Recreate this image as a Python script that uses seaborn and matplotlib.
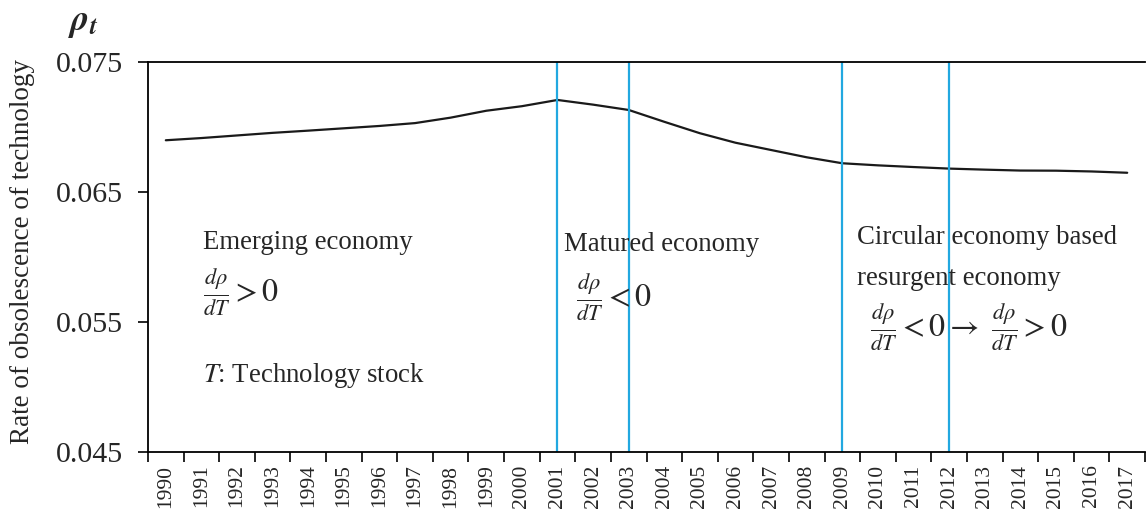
import matplotlib
matplotlib.use("Agg")
import matplotlib.pyplot as plt
import seaborn as sns
import pandas as pd
import numpy as np
from matplotlib.ticker import FixedLocator

years = [str(y) for y in range(1990, 2018)]
rho = [0.06898, 0.06915, 0.06935, 0.06955, 0.06972, 0.06990, 0.07008, 0.07030,
       0.07072, 0.07125, 0.07160, 0.07208, 0.07172, 0.07131, 0.07040, 0.06952,
       0.06879, 0.06823, 0.06767, 0.06721, 0.06705, 0.06692, 0.06680, 0.06672,
       0.06665, 0.06664, 0.06658, 0.06648]
phase_years = ["2001", "2003", "2009", "2012"]
ytick_vals = [0.045, 0.055, 0.065, 0.075]

sns.set_theme(style="ticks")
plt.rcParams["font.family"] = ["Liberation Serif", "DejaVu Serif"]
plt.rcParams["mathtext.fontset"] = "stix"

df = pd.DataFrame({"year": years, "rho": rho})

fig = plt.figure(figsize=(11.47, 5.31), dpi=100)
ax = fig.add_axes([148/1147, 1-452/531, 997/1147, 390/531])

sns.lineplot(data=df, x="year", y="rho", ax=ax, color="#1a1a1a", linewidth=1.6)

for py in phase_years:
    ax.axvline(years.index(py), color="#22A8E0", linewidth=1.6)

ax.set_xlim(-0.5, len(years) - 0.5)
ax.set_ylim(0.045, 0.075)
ax.set_yticks(ytick_vals)
ax.set_yticklabels([f"{v:.3f}" for v in ytick_vals], fontsize=21.5)
ax.set_xticks(range(len(years)))
ax.set_xticklabels(years, rotation=90, fontsize=15.5)
ax.tick_params(axis="x", which="major", length=0, pad=9)
ax.xaxis.set_minor_locator(FixedLocator(np.arange(-0.5, len(years), 1.0)))
ax.tick_params(axis="x", which="minor", length=7, width=1.2, color="black", direction="out")
ax.tick_params(axis="y", which="major", length=7, width=1.2, color="black", direction="out", pad=11)
ax.set_xlabel("")
ax.set_ylabel("Rate of obsolescence of technology", fontsize=19.5)
ax.yaxis.set_label_coords(-0.113, 0.515)

for s in ["left", "bottom", "top"]:
    ax.spines[s].set_color("black")
    ax.spines[s].set_linewidth(1.3)
ax.spines["right"].set_visible(False)

fs = 19.3
ffs = 23
ax.text(0.0552, 0.536, "Emerging economy", transform=ax.transAxes, fontsize=fs, va="center")
ax.text(0.0552, 0.41, r"$\frac{d\rho}{dT} > 0$", transform=ax.transAxes, fontsize=ffs, va="center")
ax.text(0.0552, 0.197, r"$T$: Technology stock", transform=ax.transAxes, fontsize=fs, va="center")
ax.text(0.417, 0.531, "Matured economy", transform=ax.transAxes, fontsize=fs, va="center")
ax.text(0.429, 0.397, r"$\frac{d\rho}{dT} < 0$", transform=ax.transAxes, fontsize=ffs, va="center")
ax.text(0.711, 0.549, "Circular economy based", transform=ax.transAxes, fontsize=fs, va="center")
ax.text(0.711, 0.446, "resurgent economy", transform=ax.transAxes, fontsize=fs, va="center")
ax.text(0.724, 0.32, r"$\frac{d\rho}{dT} < 0 \rightarrow\ \frac{d\rho}{dT} > 0$",
        transform=ax.transAxes, fontsize=ffs, va="center")

fig.text(68/1147, 1-23/531, r"$\mathbfit{\rho}_{\mathbfit{t}}$", fontsize=26, va="center", ha="left")

fig.savefig("out.png", dpi=100)
